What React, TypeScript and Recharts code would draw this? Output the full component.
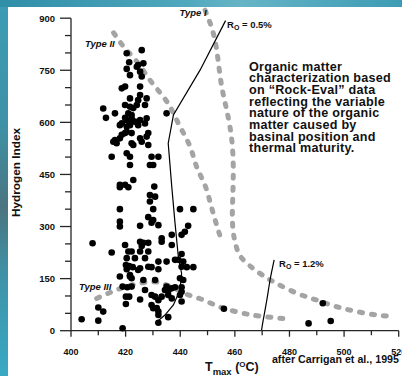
import { ComposedChart, Line, ReferenceLine, Scatter, XAxis, YAxis } from "recharts";

// axis ticks
const hiTicks = [0, 50, 100, 150, 200, 250, 300, 350, 400, 450, 500, 550, 600, 650, 700, 750, 800, 850, 900];
const tmaxTicks = [400, 410, 420, 430, 440, 450, 460, 470, 480, 490, 500, 510, 520];

// evolution pathways [Tmax, HI]
const typeI: [number, number][] = [
  [449.1, 923], [452.7, 837], [454.8, 722], [457.0, 636], [459.0, 540], [459.4, 434],
  [459.1, 348], [459.4, 285], [460.6, 240], [463.0, 205], [469.2, 165], [475.3, 136],
  [482.7, 108], [490.0, 88], [497.3, 69], [504.7, 55], [512.0, 45], [516.8, 42],
];
const typeII: [number, number][] = [
  [415.6, 858], [419.8, 813], [424.1, 775], [428.9, 722], [433.8, 674], [436.9, 636],
  [439.9, 588], [443.6, 530], [446.0, 472], [449.0, 420], [451.3, 360], [453.5, 300], [455.3, 255],
];
const typeIII: [number, number][] = [
  [409.4, 93], [414.3, 110], [418.6, 123], [423.0, 133], [427.0, 139], [431.4, 140],
  [435.6, 130], [439.3, 117], [443.0, 103], [447.3, 92], [452.1, 76], [457.0, 62],
  [463.1, 50], [469.2, 42], [476.6, 36], [478.5, 35],
];
// vitrinite reflectance isolines
const ro05: [number, number][] = [
  [456.6, 893], [447.3, 751], [437.5, 621], [435.6, 540], [436.9, 415], [438.1, 309],
  [439.3, 213], [440.5, 165], [439.9, 117], [437.5, 74], [434.4, 45], [430.8, 21],
];
const ro12: [number, number][] = [
  [469.8, 2], [470.4, 31], [471.7, 88], [472.9, 146], [474.4, 204],
];

// Rock-Eval samples [Tmax, HI]
const samples: [number, number][] = [
  [421.3, 773], [420.4, 754], [418.6, 698], [419.8, 703], [411.8, 640], [416.1, 626], [421.6, 645],
  [421.0, 626], [422.2, 621], [412.8, 613], [419.8, 613], [421.3, 602], [418.6, 597], [417.9, 592],
  [420.4, 588], [421.6, 592], [418.6, 564], [419.8, 569], [415.5, 544], [416.7, 540], [416.1, 549],
  [417.9, 554], [422.2, 540], [414.9, 501], [421.6, 501], [422.8, 434], [417.9, 420], [419.8, 420],
  [425.9, 808], [420.4, 799], [424.6, 765], [426.5, 770], [424.1, 760], [421.6, 736], [425.3, 746],
  [425.9, 732], [425.3, 703], [421.6, 669], [425.3, 679], [424.6, 664], [427.7, 669], [419.8, 650],
  [424.1, 650], [422.8, 641], [427.1, 650], [435.0, 626], [422.2, 612], [420.4, 607], [423.4, 602],
  [425.3, 607], [427.7, 612], [424.6, 592], [427.1, 597], [420.4, 573], [422.2, 569], [428.3, 569],
  [427.7, 559], [425.3, 554], [425.9, 544], [428.3, 535], [422.8, 535], [420.4, 511], [429.5, 501],
  [432.0, 501], [421.6, 477], [428.9, 477], [430.1, 477],
  [417.9, 413], [421.0, 413], [417.9, 350], [417.9, 314], [417.9, 300], [407.9, 252], [414.9, 225],
  [419.8, 247], [421.0, 228], [422.2, 228], [420.1, 189], [421.3, 186], [420.4, 177], [422.6, 183],
  [417.9, 156], [421.6, 156], [418.9, 127], [420.6, 125], [422.2, 127], [420.1, 98], [421.3, 98],
  [410.0, 67], [411.8, 55], [420.1, 77], [403.9, 33], [410.0, 29], [418.9, 7],
  [430.5, 415], [428.9, 391], [430.8, 386], [428.9, 372], [430.1, 350], [439.9, 350], [444.8, 350],
  [428.3, 327], [430.1, 319], [429.5, 311], [432.0, 304], [425.3, 302], [442.9, 302], [441.7, 285],
  [440.5, 276], [436.9, 276], [433.2, 266], [433.2, 256], [425.3, 256], [426.5, 253], [428.3, 253],
  [425.9, 244], [436.9, 247], [425.3, 228], [428.3, 228], [440.5, 221], [420.4, 209], [423.4, 209],
  [427.1, 209], [432.0, 199], [435.0, 199], [438.1, 204], [439.3, 204], [441.1, 199], [428.3, 184],
  [429.5, 183], [432.0, 177], [440.5, 184], [442.4, 183], [444.8, 183], [425.3, 180], [424.6, 175],
  [421.6, 160], [422.2, 151], [426.5, 146], [430.8, 146], [439.9, 151], [441.1, 146], [427.1, 117],
  [435.0, 127], [436.9, 122], [438.1, 125], [440.5, 125], [434.4, 117], [435.6, 115], [429.5, 103],
  [430.8, 98], [433.2, 98], [435.6, 103], [439.9, 103], [440.5, 112], [425.3, 90], [432.0, 88],
  [436.9, 93], [440.5, 84], [429.5, 74], [430.1, 65], [431.4, 65], [432.0, 55], [432.0, 45],
  [435.6, 39], [432.0, 23],
  [456.0, 63], [492.2, 79], [487.0, 21], [495.1, 28],
];

const noteLines = [
  "Organic matter",
  "characterization based",
  "on \u201cRock-Eval\u201d data",
  "reflecting the variable",
  "nature of the organic",
  "matter caused by",
  "basinal position and",
  "thermal maturity.",
];

const toPoints = (pairs: [number, number][]) => pairs.map(([tmax, hi]) => ({ tmax, hi }));

const FONT = '"Liberation Sans", Arial, Helvetica, sans-serif';
const AXIS = "#262626";
const INK = "#111";

const dashed = {
  stroke: "#a4a4a4",
  strokeWidth: 5,
  strokeDasharray: "3 9",
  strokeLinecap: "round" as const,
};

function TmaxTick(props: any) {
  const { x, y, payload } = props;
  const major = payload.value % 20 === 0;
  return (
    <g>
      <line x1={x} y1={y} x2={x} y2={y + (major ? 6 : 4.5)} stroke={AXIS} strokeWidth={1.3} />
      {major && (
        <text x={x} y={y + 24.5} textAnchor="middle" fontFamily={FONT} fontWeight="bold" fontSize={9} fill={INK}>
          {payload.value}
        </text>
      )}
    </g>
  );
}

function HiTick(props: any) {
  const { x, y, payload } = props;
  const major = payload.value % 150 === 0;
  return (
    <g>
      <line x1={x - (major ? 11 : 6)} y1={y} x2={x} y2={y} stroke={AXIS} strokeWidth={1.3} />
      {major && (
        <text x={x - 16} y={y + 3.4} textAnchor="end" fontFamily={FONT} fontWeight="bold" fontSize={9.5} fill={INK}>
          {payload.value}
        </text>
      )}
    </g>
  );
}

function SampleDot(props: any) {
  return <circle cx={props.cx} cy={props.cy} r={3.3} fill="#000" />;
}

function RoLabel({ x, y, value }: { x: number; y: number; value: string }) {
  return (
    <text x={x} y={y} fontFamily={FONT} fontWeight="bold" fontSize={9.5} fill={INK}>
      R
      <tspan fontSize={7} dy={2}>O</tspan>
      <tspan dy={-2}>{` = ${value}`}</tspan>
    </text>
  );
}

export default function App() {
  return (
    <div
      style={{
        position: "relative",
        width: 402,
        height: 376,
        overflow: "hidden",
        background: "linear-gradient(180deg, #3b9db5 0%, #3f90a5 35%, #4b7480 55%, #3e95aa 75%, #38a9c3 100%)",
      }}
    >
      <style>{"body{margin:0}"}</style>
      <div
        style={{
          position: "absolute",
          left: 0,
          top: 0,
          width: 402,
          height: 7,
          background: "linear-gradient(90deg, #2f8ea8 0%, #4ea7bc 45%, #66b4c6 60%, #3c9cb4 100%)",
        }}
      />
      <div style={{ position: "absolute", left: 8, top: 7, right: 0, bottom: 0, background: "#fff" }} />

      <div style={{ position: "absolute", left: 0, top: 0 }}>
        <ComposedChart width={402} height={376} margin={{ top: 4.3, right: 3.3, bottom: 0.3, left: 0 }}>
          <XAxis
            type="number"
            dataKey="tmax"
            domain={[400, 520]}
            ticks={tmaxTicks}
            interval={0}
            height={45}
            tickSize={0}
            tickMargin={0}
            tickLine={false}
            tick={<TmaxTick />}
            stroke={AXIS}
            strokeWidth={1.3}
          />
          <YAxis
            type="number"
            dataKey="hi"
            domain={[0, 940]}
            ticks={hiTicks}
            interval={0}
            width={71}
            axisLine={false}
            tickLine={false}
            tickSize={0}
            tickMargin={0}
            tick={<HiTick />}
          />
          <ReferenceLine segment={[{ x: 400, y: 0 }, { x: 400, y: 900 }]} stroke={AXIS} strokeWidth={1.3} />

          <Line data={toPoints(typeI)} dataKey="hi" type="natural" dot={false} isAnimationActive={false} {...dashed} />
          <Line data={toPoints(typeII)} dataKey="hi" type="natural" dot={false} isAnimationActive={false} {...dashed} />
          <Line data={toPoints(typeIII)} dataKey="hi" type="natural" dot={false} isAnimationActive={false} {...dashed} />
          <Line data={toPoints(ro05)} dataKey="hi" type="linear" dot={false} stroke="#000" strokeWidth={1.2} isAnimationActive={false} />
          <Line data={toPoints(ro12)} dataKey="hi" type="natural" dot={false} stroke="#000" strokeWidth={1.2} isAnimationActive={false} />

          <Scatter data={toPoints(samples)} dataKey="hi" shape={SampleDot} isAnimationActive={false} />
        </ComposedChart>
      </div>

      <svg width={402} height={376} style={{ position: "absolute", left: 0, top: 0, pointerEvents: "none" }}>
        <text
          transform="translate(19.5,172.5) rotate(-90)"
          textAnchor="middle"
          fontFamily={FONT}
          fontWeight="bold"
          fontSize={11.8}
          fill={INK}
        >
          Hydrogen Index
        </text>

        <g fontFamily={FONT} fontWeight="bold" fontStyle="italic" fontSize={9.5} fill={INK}>
          <text x={179.5} y={15.5}>Type I</text>
          <text x={85} y={46.5}>Type II</text>
          <text x={79} y={290}>Type III</text>
        </g>

        <RoLabel x={227} y={28} value="0.5%" />
        <RoLabel x={279} y={266.5} value="1.2%" />

        <g fontFamily={FONT} fontWeight="bold" fontSize={12.6} fill={INK} letterSpacing={0.25}>
          {noteLines.map((line, i) => (
            <text key={line} x={249} y={70.5 + i * 11.7}>
              {line}
            </text>
          ))}
        </g>

        <text x={205} y={371} fontFamily={FONT} fontWeight="bold" fontSize={12.5} fill={INK}>
          T
          <tspan fontSize={9.5} dy={3.5}>max</tspan>
          <tspan dy={-3.5}> (</tspan>
          <tspan fontSize={8} dy={-4}>O</tspan>
          <tspan dy={4}>C)</tspan>
        </text>
        <text x={399} y={363} textAnchor="end" fontFamily={FONT} fontWeight="bold" fontSize={10.7} fill={INK}>
          after Carrigan et al., 1995
        </text>
      </svg>
    </div>
  );
}
